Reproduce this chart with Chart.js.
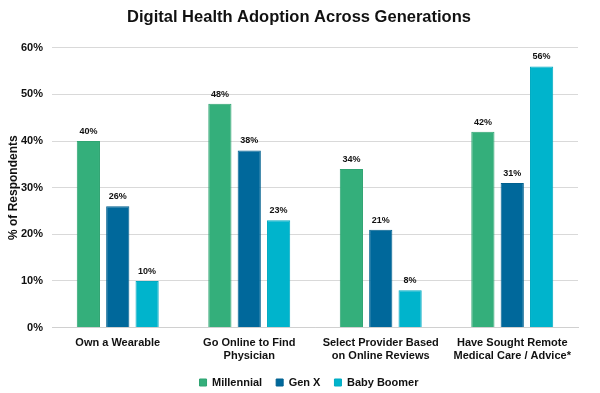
<!DOCTYPE html>
<html>
<head>
<meta charset="utf-8">
<script src="https://cdn.jsdelivr.net/npm/chart.js@4/dist/chart.umd.min.js"></script>
<style>
html,body{margin:0;padding:0;background:#fff;}
#wrap{width:600px;height:393px;}
</style>
</head>
<body>
<div id="wrap"><canvas id="c" width="600" height="393"></canvas></div>
<script>
const categories = [
  "Own a Wearable",
  ["Go Online to Find", "Physician"],
  ["Select Provider Based", "on Online Reviews"],
  ["Have Sought Remote", "Medical Care / Advice*"]
];
const millennial = [40, 48, 34, 42];
const genX = [26, 38, 21, 31];
const babyBoomer = [10, 23, 8, 56];
const yTicks = [0, 10, 20, 30, 40, 50, 60];

const FONT = "'Liberation Sans', Arial, sans-serif";

const valueLabels = {
  id: 'valueLabels',
  afterDatasetsDraw(chart) {
    const ctx = chart.ctx;
    ctx.save();
    ctx.font = "bold 9px " + FONT;
    ctx.fillStyle = '#111';
    ctx.textAlign = 'center';
    ctx.textBaseline = 'bottom';
    chart.data.datasets.forEach((ds, i) => {
      const meta = chart.getDatasetMeta(i);
      meta.data.forEach((bar, j) => {
        ctx.fillText(ds.data[j] + '%', bar.x, bar.y - 5);
      });
    });
    ctx.restore();
  }
};

const shiftBoxes = {
  id: 'shiftBoxes',
  afterLayout(chart) {
    if (chart.legend) { chart.legend.left += 17; chart.legend.right += 17; }
    if (chart.titleBlock) { chart.titleBlock.left += 7; chart.titleBlock.right += 7; }
  }
};

const chart = new Chart(document.getElementById('c'), {
  type: 'bar',
  data: {
    labels: categories,
    datasets: [
      { label: 'Millennial', data: millennial, backgroundColor: '#34AF7B', borderColor: '#2FA472', borderWidth: 1 },
      { label: 'Gen X', data: genX, backgroundColor: '#00689B', borderColor: '#00608F', borderWidth: 1 },
      { label: 'Baby Boomer', data: babyBoomer, backgroundColor: '#00B4CC', borderColor: '#00AAC2', borderWidth: 1 }
    ]
  },
  options: {
    responsive: false,
    animation: false,
    devicePixelRatio: 1,
    layout: { padding: { left: 6, right: 22, top: 0, bottom: -5 } },
    datasets: { bar: { categoryPercentage: 0.67, barPercentage: 0.79 } },
    plugins: {
      title: {
        display: true,
        text: 'Digital Health Adoption Across Generations',
        font: { family: FONT, size: 16.5, weight: 'bold' },
        color: '#111',
        padding: { top: 8, bottom: 20 }
      },
      legend: {
        position: 'bottom',
        labels: {
          font: { family: FONT, size: 11, weight: 'bold' },
          color: '#111',
          boxWidth: 7,
          boxHeight: 7,
          padding: 14
        }
      },
      tooltip: { enabled: false }
    },
    scales: {
      x: {
        afterFit(axis) { axis.height -= 9; },
        grid: { display: false, drawTicks: false },
        border: { display: true, color: '#d0d0d0', width: 1 },
        ticks: {
          font: { family: FONT, size: 11, weight: 'bold' },
          color: '#111',
          maxRotation: 0,
          autoSkip: false,
          padding: 9
        }
      },
      y: {
        min: 0,
        max: 60,
        afterBuildTicks(axis) { axis.ticks = yTicks.map(v => ({ value: v })); },
        afterFit(axis) { axis.width = 46; },
        grid: { color: '#d9d9d9', drawTicks: false },
        border: { display: false },
        ticks: {
          font: { family: FONT, size: 11, weight: 'bold' },
          color: '#111',
          padding: 9,
          callback: v => v + '%'
        },
        title: {
          display: true,
          text: '% of Respondents',
          font: { family: FONT, size: 12, weight: 'bold' },
          color: '#111',
          padding: { top: 0, bottom: 2 }
        }
      }
    }
  },
  plugins: [valueLabels, shiftBoxes]
});
</script>
</body>
</html>
